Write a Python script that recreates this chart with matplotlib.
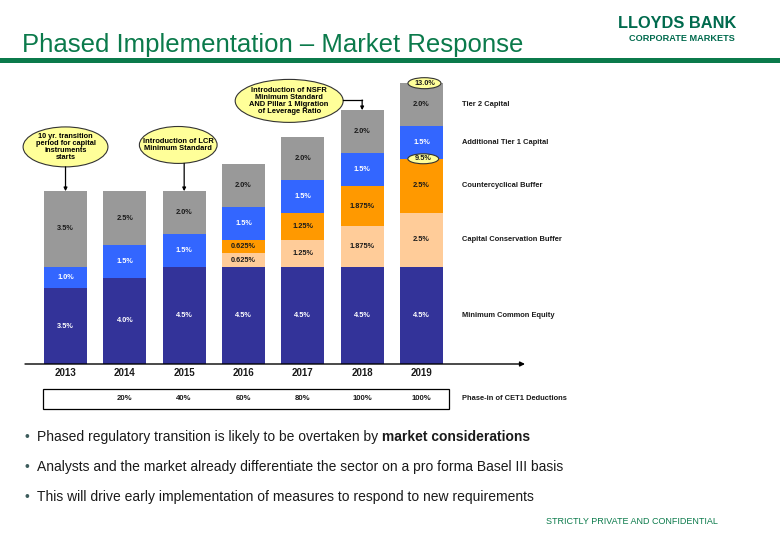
import numpy as np
import matplotlib
matplotlib.use('Agg')
import matplotlib.pyplot as plt
from matplotlib.patches import Ellipse, Rectangle

plt.rcParams['font.family'] = ['Liberation Sans', 'DejaVu Sans']

# Basel III phase-in data (% of RWA)
years = ['2013', '2014', '2015', '2016', '2017', '2018', '2019']
min_common_equity = [3.5, 4.0, 4.5, 4.5, 4.5, 4.5, 4.5]
conservation_buffer = [0, 0, 0, 0.625, 1.25, 1.875, 2.5]
countercyclical_buffer = [0, 0, 0, 0.625, 1.25, 1.875, 2.5]
additional_tier1 = [1.0, 1.5, 1.5, 1.5, 1.5, 1.5, 1.5]
tier2_capital = [3.5, 2.5, 2.0, 2.0, 2.0, 2.0, 2.0]
cet1_deductions = ['', '20%', '40%', '60%', '80%', '100%', '100%']

series_names = ['Minimum Common Equity', 'Capital Conservation Buffer',
                'Countercyclical Buffer', 'Additional Tier 1 Capital', 'Tier 2 Capital']
series_colors = ['#333399', '#FFCC99', '#FF9900', '#3366FF', '#999999']
label_colors = ['white', '#1a1a1a', '#1a1a1a', 'white', '#1a1a1a']

callouts = {
    0: '10 yr. transition\nperiod for capital\ninstruments\nstarts',
    2: 'Introduction of LCR\nMinimum Standard',
    5: 'Introduction of NSFR\nMinimum Standard\nAND Pillar 1 Migration\nof Leverage Ratio',
}

green = '#0b7a4b'


def pct(v):
    s = f'{v:.3f}'.rstrip('0')
    if s.endswith('.'):
        s += '0'
    return s + '%'


fig = plt.figure(figsize=(7.8, 5.4), dpi=100)

# slide background layer in pixel units
slide = fig.add_axes([0, 0, 1, 1])
slide.set_xlim(0, 780)
slide.set_ylim(540, 0)
slide.axis('off')

slide.text(22, 52, 'Phased Implementation \u2013 Market Response', fontsize=18.5,
           color=green, va='baseline', ha='left')
slide.add_patch(Rectangle((0, 58), 780, 5, color=green, lw=0))
slide.text(677, 23, 'LLOYDS BANK', fontsize=11.8, fontweight='bold', color='#006a4d',
           ha='center', va='center')
slide.text(682, 38.5, 'CORPORATE MARKETS', fontsize=6.6, fontweight='bold', color='#006a4d',
           ha='center', va='center')

bullets_y = [437, 467, 497]
for y in bullets_y:
    slide.text(27, y, '\u2022', fontsize=10, color='#3d5c5c', ha='center', va='center')
t1 = slide.text(37, 437, 'Phased regulatory transition is likely to be overtaken by',
                fontsize=10, color='#1a1a1a', va='center')
slide.annotate(' market considerations', xy=(1, 0), xycoords=t1, va='bottom', ha='left',
               fontsize=10, fontweight='bold', color='#1a1a1a')
slide.text(37, 467, 'Analysts and the market already differentiate the sector on a pro forma Basel III basis',
           fontsize=10, color='#1a1a1a', va='center')
slide.text(37, 497, 'This will drive early implementation of measures to respond to new requirements',
           fontsize=10, color='#1a1a1a', va='center')
slide.text(718, 522, 'STRICTLY PRIVATE AND CONFIDENTIAL', fontsize=6.5, color=green,
           ha='right', va='center')

# chart layer: x in bar index, y in %
ax = fig.add_axes([25 / 780, (540 - 364) / 540, 500 / 780, 294 / 540])
ax.set_xlim(-0.683, 7.745)
ax.set_ylim(0, 13.61)
ax.axis('off')

x = np.arange(len(years))
data = np.array([min_common_equity, conservation_buffer, countercyclical_buffer,
                 additional_tier1, tier2_capital])
bottoms = np.zeros(len(years))
for vals, color, tcol in zip(data, series_colors, label_colors):
    ax.bar(x, vals, bottom=bottoms, width=0.725, color=color, edgecolor='none')
    for i, v in enumerate(vals):
        if v > 0:
            ax.text(x[i], bottoms[i] + v / 2, pct(v), ha='center', va='center',
                    fontsize=5.3, fontweight='bold', color=tcol)
    bottoms = bottoms + vals

totals = bottoms
label_x = 6.68
last_mid = np.cumsum(data[:, -1]) - data[:, -1] / 2
for name, ym in zip(series_names, last_mid):
    ax.text(label_x, ym, name, fontsize=5.45, fontweight='bold', color='#1a1a1a',
            ha='left', va='center')

# baseline arrow and years
ax.annotate('', xy=(1, 0), xytext=(0, 0), xycoords='axes fraction',
            arrowprops=dict(arrowstyle='-|>', lw=1, color='black', mutation_scale=7,
                            shrinkA=0, shrinkB=0), annotation_clip=False)
for i, yr in enumerate(years):
    ax.text(x[i], -0.42, yr, ha='center', va='center', fontsize=7,
            fontweight='bold', color='#1a1a1a', clip_on=False)

# CET1 deduction phase-in row
ax.add_patch(Rectangle((-0.379, -2.083), 6.84, 0.926, fill=False, edgecolor='black',
                       lw=0.9, clip_on=False))
for i, s in enumerate(cet1_deductions):
    if s:
        ax.text(x[i], -1.62, s, ha='center', va='center', fontsize=5.6,
                fontweight='bold', color='#1a1a1a', clip_on=False)
ax.text(label_x, -1.62, 'Phase-in of CET1 Deductions', fontsize=5.45, fontweight='bold',
        color='#1a1a1a', ha='left', va='center', clip_on=False)

# callouts
ell_style = dict(facecolor='#ffff99', edgecolor='#333333', lw=0.8, clip_on=False)
ax.add_patch(Ellipse((0.0, 10.05), 1.43, 1.85, **ell_style))
ax.text(0.0, 10.05, callouts[0], ha='center', va='center', fontsize=5.3,
        fontweight='bold', linespacing=1.05)
ax.annotate('', xy=(0, totals[0]), xytext=(0, 10.05 - 0.925),
            arrowprops=dict(arrowstyle='-|>', lw=0.9, color='black', mutation_scale=5,
                            shrinkA=0, shrinkB=0))

ax.add_patch(Ellipse((1.9, 10.14), 1.31, 1.71, **ell_style))
ax.text(1.9, 10.14, callouts[2], ha='center', va='center', fontsize=5.4,
        fontweight='bold', linespacing=1.1)
ax.annotate('', xy=(2, totals[2]), xytext=(2, 10.14 - 0.855),
            arrowprops=dict(arrowstyle='-|>', lw=0.9, color='black', mutation_scale=5,
                            shrinkA=0, shrinkB=0))

ax.add_patch(Ellipse((3.77, 12.18), 1.82, 1.99, **ell_style))
ax.text(3.77, 12.18, callouts[5], ha='center', va='center', fontsize=5.4,
        fontweight='bold', linespacing=1.05)
ax.plot([3.77 + 0.91, 5], [12.22, 12.22], color='black', lw=0.9)
ax.annotate('', xy=(5, totals[5]), xytext=(5, 12.22),
            arrowprops=dict(arrowstyle='-|>', lw=0.9, color='black', mutation_scale=5,
                            shrinkA=0, shrinkB=0))

# totals for 2019
cet1_2019 = data[:3, -1].sum()
ax.add_patch(Ellipse((6.05, totals[-1]), 0.556, 0.51, **ell_style))
ax.text(6.05, totals[-1], pct(totals[-1]), ha='center', va='center', fontsize=5.3,
        fontweight='bold', color='#1a1a1a')
ax.add_patch(Ellipse((6.03, cet1_2019), 0.52, 0.46, **ell_style))
ax.text(6.03, cet1_2019, pct(cet1_2019), ha='center', va='center', fontsize=5.3,
        fontweight='bold', color='#1a1a1a')

fig.savefig('out.png', dpi=100)
